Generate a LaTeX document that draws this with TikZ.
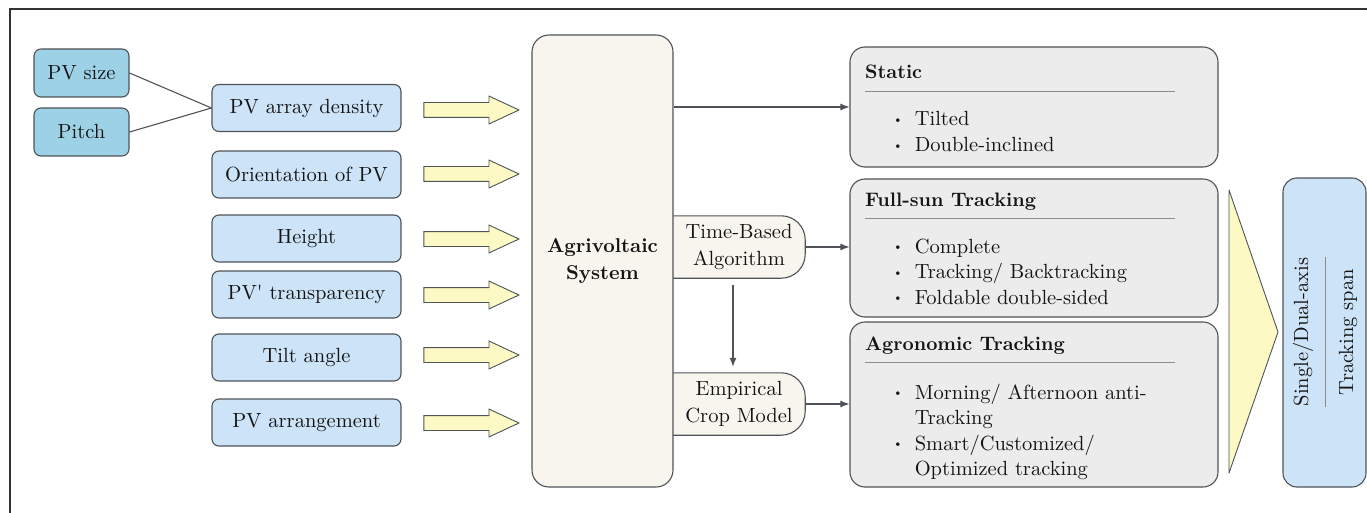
\documentclass[tikz,border=0pt]{standalone}
\usepackage{fontspec}
\setmainfont{lmroman10-regular.otf}[BoldFont=lmroman10-bold.otf]
\usetikzlibrary{shapes.arrows,arrows.meta,calc,backgrounds}
\definecolor{edge}{HTML}{4F5358}
\definecolor{dblue}{HTML}{9DD1E6}
\definecolor{lblue}{HTML}{CDE3F8}
\definecolor{agrifill}{HTML}{F7F5EE}
\definecolor{grayfill}{HTML}{ECECEC}
\definecolor{yfill}{HTML}{FCF9C4}
\definecolor{txt}{HTML}{141414}
\definecolor{sepcol}{HTML}{8C8C8C}
\newcommand{\blt}{\raisebox{0.25ex}{\scalebox{0.6}{\textbullet}}}
\begin{document}
\begin{tikzpicture}[x=1pt,y=-1pt,
  every node/.style={text=txt, font=\fontsize{20.5}{27}\selectfont},
  boxbase/.style={draw=edge,line width=1.1pt,rounded corners=7pt,inner sep=0pt},
  srcbox/.style={boxbase,fill=dblue,minimum width=95pt,minimum height=48pt},
  parbox/.style={boxbase,fill=lblue,minimum width=189pt,minimum height=47pt},
  blockarrow/.style={single arrow,draw=edge,line width=0.9pt,fill=yfill,minimum height=95pt,minimum width=0pt,single arrow head extend=6.5pt,single arrow tip angle=50,inner xsep=0pt,inner ysep=7pt,anchor=tip},
  catbox/.style={boxbase,fill=grayfill,rounded corners=15pt,minimum width=368pt},
  conn/.style={draw=edge,line width=1.1pt},
  arr/.style={conn,-{Latex[length=9pt,width=7pt]}},
  sep/.style={draw=sepcol,line width=0.8pt},
  head/.style={anchor=base west,inner sep=0pt,font=\bfseries\fontsize{19.5}{27}\selectfont},
  lst/.style={anchor=base west,inner sep=0pt,font=\fontsize{20.5}{25.5}\selectfont}
]
\useasboundingbox (0,0) rectangle (1367,513);
\draw[line width=1.2pt, draw=black!80] (10,513) -- (10,9) -- (1367,9);

% source boxes
\node[srcbox] (size) at (81.5,73) {PV size};
\node[srcbox] (pitch) at (81.5,132) {Pitch};

% parameter boxes
\node[parbox] (dens) at (306.5,108) {PV array density};
\node[parbox] (orient) at (306.5,174.5) {Orientation of PV};
\node[parbox] (height) at (306.5,238.5) {Height};
\node[parbox] (transp) at (306.5,294.5) {PV\textquotesingle{} transparency};
\node[parbox] (tilt) at (306.5,357.5) {Tilt angle};
\node[parbox] (arrange) at (306.5,422.5) {PV arrangement};

\draw[conn] (size.east) -- (dens.west);
\draw[conn] (pitch.east) -- (dens.west);

% block arrows
\node[blockarrow] (a1) at (520,110) {};
\node[blockarrow] (a2) at (520,174) {};
\node[blockarrow] (a3) at (520,239) {};
\node[blockarrow] (a4) at (520,295) {};
\node[blockarrow] (a5) at (520,355) {};
\node[blockarrow] (a6) at (520,423) {};

% algorithm boxes (text) with backgrounds
\node[align=center, inner sep=0pt, minimum width=132pt, minimum height=62pt, font=\fontsize{20.5}{27}\selectfont] (tb) at (739,247) {Time-Based\\Algorithm};
\node[align=center, inner sep=0pt, minimum width=132pt, minimum height=62pt, font=\fontsize{20.5}{27}\selectfont] (ec) at (739,404) {Empirical\\Crop Model};
\begin{scope}[on background layer]
\draw[boxbase, rounded corners=24pt, fill=agrifill] ($(tb.north west)+(-30,0)$) rectangle (tb.south east);
\draw[boxbase, rounded corners=24pt, fill=agrifill] ($(ec.north west)+(-30,0)$) rectangle (ec.south east);
\end{scope}

% agrivoltaic system
\node[boxbase, rounded corners=17pt, fill=agrifill, minimum width=141pt, minimum height=452pt, align=center, font=\bfseries\fontsize{20}{27}\selectfont] (agri) at (602.5,261) {Agrivoltaic\\System};

% category boxes
\node[catbox, minimum height=120pt] (static) at (1034,107) {};
\node[catbox, minimum height=138pt] (fullsun) at (1034,248) {};
\node[catbox, minimum height=165pt] (agron) at (1034,404.5) {};

\node[head] (hstatic) at (865,79) {Static};
\node[head] (hfull) at (865,207) {Full-sun Tracking};
\node[head] (hagron) at (865,350) {Agronomic Tracking};
\draw[sep] (865,91) -- (1175,91);
\draw[sep] (865,218) -- (1175,218);
\draw[sep] (865,362) -- (1175,362);

\node[lst] (lstatic) at (893,126) {\begin{tabular}[t]{@{}c@{\hspace{12pt}}l@{}}\blt & Tilted\\ \blt & Double-inclined\end{tabular}};
\node[lst] (lfull) at (893,253) {\begin{tabular}[t]{@{}c@{\hspace{12pt}}l@{}}\blt & Complete\\ \blt & Tracking/ Backtracking\\ \blt & Foldable double-sided\end{tabular}};
\node[lst] (lagron) at (893,399) {\begin{tabular}[t]{@{}c@{\hspace{12pt}}l@{}}\blt & Morning/ Afternoon anti-\\ & Tracking\\ \blt & Smart/Customized/\\ & Optimized tracking\end{tabular}};

% connectors
\draw[arr] (agri.east |- static.west) -- (static.west);
\draw[arr] (tb.east) -- (tb.east -| fullsun.west);
\draw[arr] ($(tb.south)+(-6,7)$) -- ($(ec.north)+(-6,-6)$);
\draw[arr] (ec.east) -- (ec.east -| agron.west);

% big triangle
\draw[fill=yfill, draw=edge, line width=0.9pt, line join=round] (1229,190) -- (1278,332) -- (1229,473) -- cycle;

% tracking box
\node[boxbase, fill=lblue, rounded corners=14pt, minimum width=83pt, minimum height=309pt] (span) at (1324.5,332.5) {};
\node[rotate=90] (sd) at (1303,332) {Single/Dual-axis};
\node[rotate=90] (ts) at (1348,332) {Tracking span};
\draw[sep] (1325,257) -- (1325,407);
\end{tikzpicture}
\end{document}
